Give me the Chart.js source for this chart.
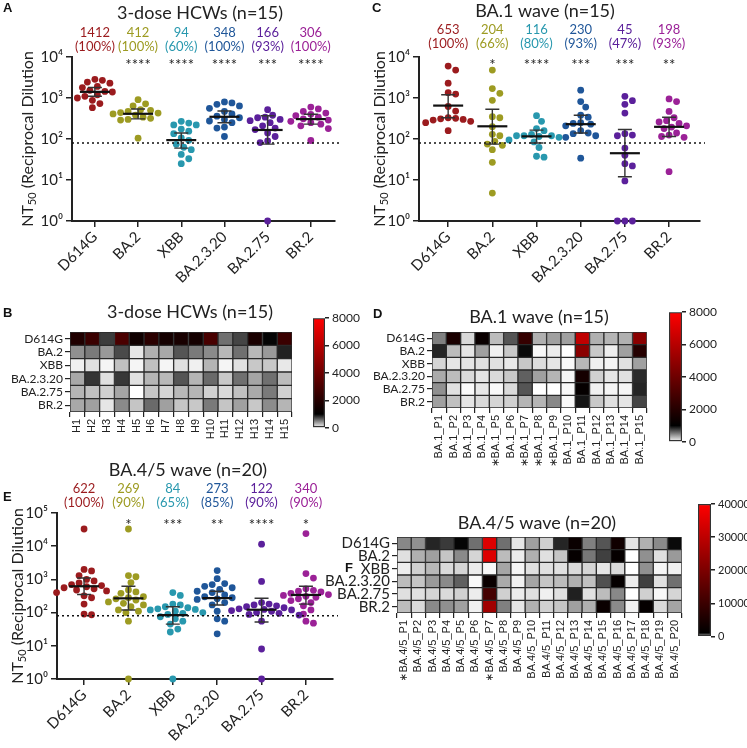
<!DOCTYPE html>
<html>
<head>
<meta charset="utf-8">
<script src="https://cdn.jsdelivr.net/npm/chart.js@4.4.1/dist/chart.umd.min.js"></script>
<style>
  body { margin: 0; background: #fff; }
  #fig { position: relative; width: 747px; height: 748px; overflow: hidden; }
  #fig canvas { position: absolute; }
  .tag { position: absolute; font: bold 13px Arial, sans-serif; color: #111; line-height: 13px; }
</style>
</head>
<body>
<div id="fig">
  <canvas id="dotA" width="345" height="300" style="left:0;top:0"></canvas>
  <canvas id="dotC" width="400" height="300" style="left:347px;top:0"></canvas>
  <canvas id="heatB" width="300" height="150" style="left:0;top:295px"></canvas>
  <canvas id="barB" width="70" height="130" style="left:300px;top:308px"></canvas>
  <canvas id="heatD" width="300" height="175" style="left:355px;top:295px"></canvas>
  <canvas id="barD" width="91" height="150" style="left:656px;top:302px"></canvas>
  <canvas id="dotE" width="345" height="308" style="left:0;top:440px"></canvas>
  <canvas id="heatF" width="390" height="180" style="left:300px;top:500px"></canvas>
  <canvas id="barF" width="62" height="152" style="left:685px;top:494px"></canvas>
  <div class="tag" style="left:3px;top:1px">A</div>
  <div class="tag" style="left:3px;top:306px">B</div>
  <div class="tag" style="left:372px;top:1px">C</div>
  <div class="tag" style="left:373px;top:307px">D</div>
  <div class="tag" style="left:3px;top:490px">E</div>
  <div class="tag" style="left:345px;top:561px">F</div>
</div>
<script>
//Categories and colours
const variants = ['D614G', 'BA.2', 'XBB', 'BA.2.3.20', 'BA.2.75', 'BR.2']
const variantColors = ['#9b1b1e', '#9d9b22', '#2898ae', '#1f5699', '#5b209b', '#9b2197']
const detectionLimit = 80

//3-dose HCWs (A)
const hcwD614G = [2850, 2700, 2450, 2300, 1920, 1800, 1540, 1450, 1400, 1200, 1100, 1000, 880, 730, 580]
const hcwBA2 = [910, 720, 640, 520, 500, 470, 440, 430, 410, 380, 340, 320, 300, 290, 105]
const hcwXBB = [270, 245, 220, 220, 175, 155, 135, 107, 93, 74, 63, 55, 42, 33, 25]
const hcwBA2320 = [800, 760, 700, 640, 560, 470, 410, 360, 330, 300, 275, 250, 195, 185, 115]
const hcwBA275 = [520, 380, 340, 330, 300, 280, 250, 210, 185, 170, 140, 115, 90, 82, 1]
const hcwBR2 = [600, 540, 470, 430, 400, 370, 340, 310, 290, 270, 250, 230, 210, 180, 92]
const hcwGMT = [1412, 412, 94, 348, 166, 306]
const hcwPercent = ['100%', '100%', '60%', '100%', '93%', '100%']
const hcwLow = [1100, 310, 60, 250, 75, 230]
const hcwHigh = [1800, 540, 140, 480, 370, 400]
const hcwStars = ['', '****', '****', '****', '***', '****']

//BA.1 wave (C)
const ba1D614G = [6000, 4800, 2300, 1350, 1250, 620, 480, 330, 320, 310, 300, 290, 270, 250, 160]
const ba1BA2 = [4800, 1700, 1300, 880, 350, 330, 200, 130, 120, 88, 75, 70, 55, 27, 4.8]
const ba1XBB = [370, 270, 180, 160, 130, 120, 120, 120, 115, 110, 95, 85, 62, 38, 36]
const ba1BA2320 = [1550, 820, 600, 380, 340, 250, 240, 230, 210, 160, 140, 135, 120, 110, 34]
const ba1BA275 = [1100, 860, 700, 430, 135, 125, 120, 60, 40, 25, 22, 9.5, 1, 1, 1]
const ba1BR2 = [950, 820, 470, 330, 280, 260, 240, 210, 195, 180, 140, 125, 115, 110, 16]
const ba1GMT = [653, 204, 116, 230, 45, 198]
const ba1Percent = ['100%', '66%', '80%', '93%', '47%', '93%']
const ba1Low = [330, 75, 80, 140, 12, 115]
const ba1High = [1200, 530, 165, 380, 170, 340]
const ba1Stars = ['', '*', '****', '***', '***', '**']

//BA.4/5 wave (E)
const ba45D614G = [33000, 2000, 1800, 1300, 1000, 900, 780, 700, 650, 600, 560, 520, 480, 450, 400, 320, 280, 180, 90, 86]
const ba45BA2 = [33000, 1300, 1200, 800, 480, 420, 380, 300, 280, 260, 240, 210, 190, 170, 150, 120, 110, 100, 55, 1]
const ba45XBB = [400, 330, 180, 170, 150, 140, 130, 125, 120, 110, 100, 95, 88, 75, 65, 55, 45, 32, 26, 1]
const ba45BA2320 = [1850, 1050, 750, 700, 620, 560, 500, 440, 400, 340, 300, 280, 260, 250, 200, 170, 110, 65, 55, 23]
const ba45BA275 = [11500, 870, 200, 180, 170, 160, 150, 140, 130, 125, 120, 115, 110, 100, 95, 88, 84, 55, 8, 1]
const ba45BR2 = [24000, 1500, 1100, 520, 470, 440, 420, 380, 350, 330, 310, 290, 260, 230, 200, 160, 120, 90, 55, 48]
const ba45GMT = [622, 269, 84, 273, 122, 340]
const ba45Percent = ['100%', '90%', '65%', '85%', '90%', '90%']
const ba45Low = [350, 120, 45, 170, 52, 180]
const ba45High = [1100, 620, 150, 440, 270, 620]
const ba45Stars = ['', '*', '***', '**', '****', '*']

//Heatmaps, one row per variant
const hcwIds = ['H1', 'H2', 'H3', 'H4', 'H5', 'H6', 'H7', 'H8', 'H9', 'H10', 'H11', 'H12', 'H13', 'H14', 'H15']
const hcwHeat = [
    [1880, 2590, 764, 3030, 1440, 2150, 1580, 1660, 1580, 2980, 560, 729, 1710, 980, 2590],
    [435, 521, 400, 710, 98, 310, 341, 666, 521, 459, 278, 560, 278, 400, 866],
    [59, 122, 39, 247, 39, 247, 39, 122, 59, 290, 39, 122, 216, 216, 90],
    [341, 792, 122, 780, 122, 290, 278, 666, 290, 584, 216, 560, 353, 560, 263],
    [290, 247, 184, 353, 0, 227, 165, 278, 290, 184, 145, 247, 333, 521, 184],
    [341, 372, 98, 459, 227, 584, 372, 227, 216, 521, 227, 372, 216, 451, 290]
]
const ba1Ids = ['BA.1_P1', 'BA.1_P2', 'BA.1_P3', 'BA.1_P4', '∗BA.1_P5', 'BA.1_P6', '∗BA.1_P7', '∗BA.1_P8', '∗BA.1_P9', 'BA.1_P10', 'BA.1_P11', 'BA.1_P12', 'BA.1_P13', 'BA.1_P14', 'BA.1_P15']
const ba1Heat = [
    [498, 1714, 153, 1275, 263, 666, 2455, 310, 372, 372, 6270, 310, 290, 310, 4790],
    [855, 263, 102, 372, 59, 216, 960, 27, 74, 0, 4790, 216, 67, 372, 2016],
    [165, 102, 102, 122, 122, 90, 216, 137, 102, 27, 278, 59, 39, 122, 372],
    [333, 263, 145, 102, 145, 216, 623, 372, 290, 39, 1576, 184, 102, 122, 835],
    [435, 122, 20, 90, 27, 145, 666, 0, 0, 27, 1137, 59, 39, 39, 855],
    [372, 247, 102, 145, 165, 184, 290, 290, 466, 27, 917, 216, 122, 102, 729]
]
const ba45Ids = ['∗BA.4/5_P1', 'BA.4/5_P2', 'BA.4/5_P3', 'BA.4/5_P4', 'BA.4/5_P5', 'BA.4/5_P6', '∗BA.4/5_P7', 'BA.4/5_P8', 'BA.4/5_P9', 'BA.4/5_P10',
    'BA.4/5_P11', 'BA.4/5_P12', 'BA.4/5_P13', 'BA.4/5_P14', 'BA.4/5_P15', '∗BA.4/5_P16', 'BA.4/5_P17', 'BA.4/5_P18', 'BA.4/5_P19', 'BA.4/5_P20']
const ba45Heat = [
    [466, 435, 855, 772, 980, 560, 34800, 560, 102, 372, 184, 855, 2530, 498, 666, 3450, 102, 310, 459, 960],
    [122, 310, 372, 227, 459, 165, 34800, 263, 74, 310, 122, 227, 1760, 533, 749, 1760, 0, 435, 122, 396],
    [74, 184, 278, 145, 165, 74, 27, 353, 39, 122, 122, 122, 145, 165, 102, 145, 0, 435, 39, 59],
    [263, 227, 396, 459, 623, 27, 2530, 333, 59, 353, 227, 263, 310, 247, 686, 1760, 74, 749, 122, 560],
    [122, 122, 165, 145, 184, 74, 11550, 184, 74, 122, 59, 122, 874, 122, 263, 466, 0, 184, 27, 165],
    [263, 145, 459, 435, 372, 59, 25470, 498, 102, 310, 184, 227, 372, 310, 2530, 459, 59, 1760, 145, 353]
]



//Shared look
Chart.defaults.font.family = 'Lato, "DejaVu Sans", sans-serif'
Chart.defaults.color = '#222'
const ink = '#222'
const grayLimit = 1000
const superscripts = ['⁰', '¹', '²', '³', '⁴', '⁵']

function heatColor(v, max)
{
    if (v <= grayLimit) {
        const g = Math.round(255 * (1 - v / grayLimit))
        return `rgb(${g},${g},${g})`
    }
    const r = Math.round(255 * Math.min(1, (v - grayLimit) / (max - grayLimit)))
    return `rgb(${r},0,0)`
}

//spread the dots of one column sideways so they don't overlap
function swarm(values, column, unitPx, decadePx)
{
    const placed = []
    return [...values].sort((a, b) => b - a).map(v => {
        const py = Math.log10(v) * decadePx
        let off = 0
        for (let k = 0; k < 60; k++) {
            off = (k % 2 ? 1 : -1) * Math.ceil(k / 2) * 2.5
            if (placed.every(p => Math.hypot(p.x - off, p.y - py) >= 7.2)) break
        }
        placed.push({x: off, y: py})
        return {x: column + off / unitPx, y: v}
    })
}

function drawAxisTitle(c, cx, cy)
{
    c.save()
    c.translate(cx, cy)
    c.rotate(-Math.PI / 2)
    c.textBaseline = 'middle'
    c.textAlign = 'left'
    c.fillStyle = ink
    const big = '16px Lato', small = '11px Lato'
    c.font = big
    const w1 = c.measureText('NT').width
    const w3 = c.measureText(' (Reciprocal Dilution').width
    c.font = small
    const w2 = c.measureText('50').width
    const x0 = -(w1 + w2 + w3) / 2
    c.font = big
    c.fillText('NT', x0, 0)
    c.font = small
    c.fillText('50', x0 + w1, 4)
    c.font = big
    c.fillText(' (Reciprocal Dilution', x0 + w1 + w2, 0)
    c.restore()
}

function dotPanel(canvasId, p)
{
    const canvas = document.getElementById(canvasId)
    const areaW = canvas.width - p.axisW - p.right
    const areaH = canvas.height - p.top - p.axisH
    const unitPx = areaW / (p.xMax - p.xMin)
    const decadePx = areaH / Math.log10(p.yMax)
    const powers = []
    for (let e = 0; 10 ** e <= p.yMax; e++) powers.push(10 ** e)

    const overlay = {
        id: 'overlay',
        afterDatasetsDraw(chart) {
            const c = chart.ctx, x = chart.scales.x, y = chart.scales.y, a = chart.chartArea
            c.save()
            c.strokeStyle = '#111'
            c.lineWidth = 1.5
            c.setLineDash([2, 3])
            const yl = y.getPixelForValue(detectionLimit)
            c.beginPath(); c.moveTo(a.left, yl); c.lineTo(a.right + 5, yl); c.stroke()
            c.setLineDash([])
            p.gmt.forEach((g, i) => {
                const cx = x.getPixelForValue(i)
                const ym = y.getPixelForValue(g), yh = y.getPixelForValue(p.high[i]), yo = y.getPixelForValue(p.low[i])
                c.strokeStyle = '#333'
                c.lineWidth = 1.4
                c.beginPath()
                c.moveTo(cx, yh); c.lineTo(cx, yo)
                c.moveTo(cx - 7, yh); c.lineTo(cx + 7, yh)
                c.moveTo(cx - 7, yo); c.lineTo(cx + 7, yo)
                c.stroke()
                c.strokeStyle = '#111'
                c.lineWidth = 2.2
                c.beginPath(); c.moveTo(cx - 15, ym); c.lineTo(cx + 15, ym); c.stroke()
                c.textAlign = 'center'
                c.textBaseline = 'middle'
                c.fillStyle = variantColors[i]
                c.font = '13px Lato'
                c.fillText(String(g), cx, p.numY)
                c.fillText('(' + p.percent[i] + ')', cx, p.pctY)
                c.fillStyle = ink
                c.font = '15px Lato'
                c.fillText(p.stars[i], cx, p.starY)
            })
            c.fillStyle = ink
            c.font = '18px Lato'
            c.textAlign = 'center'
            c.textBaseline = 'middle'
            c.fillText(p.title, p.titleX, p.titleY)
            c.restore()
            drawAxisTitle(c, p.axisTitleX, (a.top + a.bottom) / 2)
        }
    }

    return new Chart(canvas, {
        type: 'scatter',
        data: {
            datasets: p.groups.map((vals, i) => ({
                data: swarm(vals, i, unitPx, decadePx),
                backgroundColor: variantColors[i],
                borderWidth: 0,
                pointRadius: 3.4,
                clip: false
            }))
        },
        options: {
            responsive: false,
            animation: false,
            layout: {padding: {top: p.top, right: p.right, left: 0, bottom: 0}},
            plugins: {legend: {display: false}, tooltip: {enabled: false}},
            scales: {
                x: {
                    type: 'linear', min: p.xMin, max: p.xMax,
                    afterBuildTicks: s => { s.ticks = variants.map((v, i) => ({value: i})) },
                    afterFit: s => { s.height = p.axisH },
                    ticks: {callback: v => variants[v], minRotation: 45, maxRotation: 45, autoSkip: false, font: {size: 15}, color: ink, padding: 1},
                    grid: {drawOnChartArea: false, drawTicks: true, tickLength: 6, color: ink, lineWidth: 1.5},
                    border: {color: ink, width: 2}
                },
                y: {
                    type: 'logarithmic', min: 1, max: p.yMax,
                    afterBuildTicks: s => { s.ticks = powers.map(v => ({value: v})) },
                    afterFit: s => { s.width = p.axisW },
                    ticks: {callback: v => '10' + superscripts[Math.round(Math.log10(v))], autoSkip: false, font: {size: 15}, color: ink, padding: 3},
                    grid: {drawOnChartArea: false, drawTicks: true, tickLength: 6, color: ink, lineWidth: 1.5},
                    border: {color: ink, width: 2}
                }
            }
        },
        plugins: [overlay]
    })
}

function heatPanel(canvasId, p)
{
    const title = {
        id: 'title',
        afterDraw(chart) {
            const c = chart.ctx
            c.save()
            c.fillStyle = ink
            c.font = '18px Lato'
            c.textAlign = 'center'
            c.textBaseline = 'middle'
            c.fillText(p.title, p.titleX, p.titleY)
            c.restore()
        }
    }
    const rows = p.heat.map((row, r) => ({
        label: variants[r],
        data: row.map(() => 1),
        backgroundColor: row.map(v => heatColor(v, p.max)),
        borderColor: '#2a2a2a',
        borderWidth: 1,
        borderSkipped: false,
        barPercentage: 1,
        categoryPercentage: 1
    })).reverse()

    return new Chart(document.getElementById(canvasId), {
        type: 'bar',
        data: {labels: p.ids, datasets: rows},
        options: {
            responsive: false,
            animation: false,
            layout: {padding: {top: p.top, right: p.right, left: 0, bottom: 0}},
            plugins: {legend: {display: false}, tooltip: {enabled: false}},
            scales: {
                x: {
                    stacked: true,
                    afterFit: s => { s.height = p.axisH },
                    ticks: {minRotation: 90, maxRotation: 90, autoSkip: false, font: {family: '"Liberation Sans", Arial, sans-serif', size: 11}, color: ink, padding: 2},
                    grid: {drawOnChartArea: false, drawTicks: true, tickLength: 5, color: ink, lineWidth: 1.2},
                    border: {display: false}
                },
                y: {
                    stacked: true, min: 0, max: variants.length,
                    afterBuildTicks: s => { s.ticks = variants.map((v, i) => ({value: i + 0.5})) },
                    afterFit: s => { s.width = p.axisW },
                    ticks: {callback: v => variants[variants.length - 1 - Math.floor(v)], autoSkip: false, font: {size: p.rowFont}, color: ink, padding: 2},
                    grid: {drawOnChartArea: false, drawTicks: true, tickLength: 5, color: ink, lineWidth: 1.2},
                    border: {display: false}
                }
            }
        },
        plugins: [title]
    })
}

function scaleBar(canvasId, p)
{
    return new Chart(document.getElementById(canvasId), {
        type: 'bar',
        data: {
            labels: [''],
            datasets: [{
                data: [[0, p.max]],
                backgroundColor: ctx => {
                    const chart = ctx.chart
                    if (!chart.chartArea) return '#000'
                    const y = chart.scales.y
                    const g = chart.ctx.createLinearGradient(0, y.getPixelForValue(0), 0, y.getPixelForValue(p.max))
                    g.addColorStop(0, heatColor(0, p.max))
                    g.addColorStop(grayLimit / p.max, heatColor(grayLimit, p.max))
                    g.addColorStop(1, heatColor(p.max, p.max))
                    return g
                },
                borderColor: '#333',
                borderWidth: 1.5,
                borderSkipped: false,
                barPercentage: 1,
                categoryPercentage: 1
            }]
        },
        options: {
            responsive: false,
            animation: false,
            layout: {padding: {top: 10, left: 13, bottom: p.bottom, right: 0}},
            plugins: {legend: {display: false}, tooltip: {enabled: false}},
            scales: {
                x: {display: false},
                y: {
                    position: 'right', min: 0, max: p.max,
                    afterBuildTicks: s => { s.ticks = p.ticks.map(v => ({value: v})) },
                    afterFit: s => { s.width = p.axisW },
                    ticks: {callback: v => String(v), autoSkip: false, font: {size: p.font}, color: ink, padding: 3},
                    grid: {drawOnChartArea: false, drawTicks: true, tickLength: 4, color: ink, lineWidth: 1.5},
                    border: {display: false}
                }
            }
        }
    })
}



//Build the six panels
dotPanel('dotA', {
    groups: [hcwD614G, hcwBA2, hcwXBB, hcwBA2320, hcwBA275, hcwBR2],
    gmt: hcwGMT, percent: hcwPercent, low: hcwLow, high: hcwHigh, stars: hcwStars,
    title: '3-dose HCWs (n=15)', titleX: 200, titleY: 13,
    numY: 33, pctY: 47, starY: 65, axisTitleX: 28,
    yMax: 1e4, xMin: -0.53, xMax: 5.56, axisW: 72, top: 57, axisH: 79, right: 10
})

dotPanel('dotC', {
    groups: [ba1D614G, ba1BA2, ba1XBB, ba1BA2320, ba1BA275, ba1BR2],
    gmt: ba1GMT, percent: ba1Percent, low: ba1Low, high: ba1High, stars: ba1Stars,
    title: 'BA.1 wave (n=15)', titleX: 198, titleY: 11,
    numY: 30, pctY: 44, starY: 65, axisTitleX: 33,
    yMax: 1e4, xMin: -0.66, xMax: 5.7, axisW: 72, top: 57, axisH: 79, right: 47
})

dotPanel('dotE', {
    groups: [ba45D614G, ba45BA2, ba45XBB, ba45BA2320, ba45BA275, ba45BR2],
    gmt: ba45GMT, percent: ba45Percent, low: ba45Low, high: ba45High, stars: ba45Stars,
    title: 'BA.4/5 wave (n=20)', titleX: 188, titleY: 30,
    numY: 49, pctY: 63, starY: 85, axisTitleX: 18,
    yMax: 1e5, xMin: -0.61, xMax: 5.61, axisW: 57, top: 73, axisH: 69, right: 12
})

heatPanel('heatB', {ids: hcwIds, heat: hcwHeat, max: 8000, title: '3-dose HCWs (n=15)', titleX: 190, titleY: 17,
    top: 37, right: 4, axisW: 70, axisH: 33, rowFont: 12})
scaleBar('barB', {max: 8000, ticks: [0, 2000, 4000, 6000, 8000], bottom: 6, axisW: 45, font: 12})

heatPanel('heatD', {ids: ba1Ids, heat: ba1Heat, max: 8000, title: 'BA.1 wave (n=15)', titleX: 184, titleY: 22,
    top: 37, right: 3, axisW: 77, axisH: 62, rowFont: 12})
scaleBar('barD', {max: 8000, ticks: [0, 2000, 4000, 6000, 8000], bottom: 5, axisW: 65, font: 12})

heatPanel('heatF', {ids: ba45Ids, heat: ba45Heat, max: 40000, title: 'BA.4/5 wave (n=20)', titleX: 237, titleY: 23,
    top: 37, right: 7, axisW: 97, axisH: 67, rowFont: 15})
scaleBar('barF', {max: 40000, ticks: [0, 10000, 20000, 30000, 40000], bottom: 6, axisW: 36, font: 11})
</script>
</body>
</html>
